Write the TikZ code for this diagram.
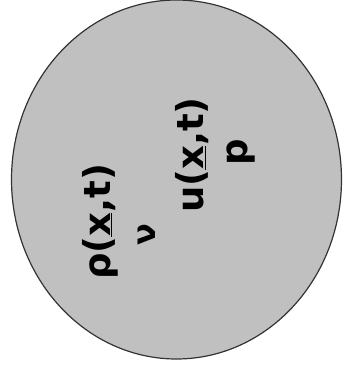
\documentclass[tikz,border=0pt]{standalone}
\usepackage{fontspec}
\setmainfont{DejaVu Sans}
\begin{document}
\begin{tikzpicture}[x=1pt,y=-1pt,
  lbl/.style={font=\bfseries\fontsize{37}{37}\selectfont, rotate=90, inner sep=0pt},
  small/.style={font=\bfseries\fontsize{32}{32}\selectfont, rotate=90, inner sep=0pt}]
\useasboundingbox (0,0) rectangle (343,369);
\definecolor{fillgray}{HTML}{C0C0C0}
\draw[line width=1.2pt, draw=black!80, fill=fillgray] (176.5,179.5) ellipse [x radius=165, y radius=179.5];
\node[lbl] (rho) at (100,222) {ρ(\underline{x},t)};
\node[small] (nu) at (147,235) {ν};
\node[lbl] (u) at (192,155) {u(\underline{x},t)};
\node[lbl] (p) at (241,152) {p};
\end{tikzpicture}
\end{document}
